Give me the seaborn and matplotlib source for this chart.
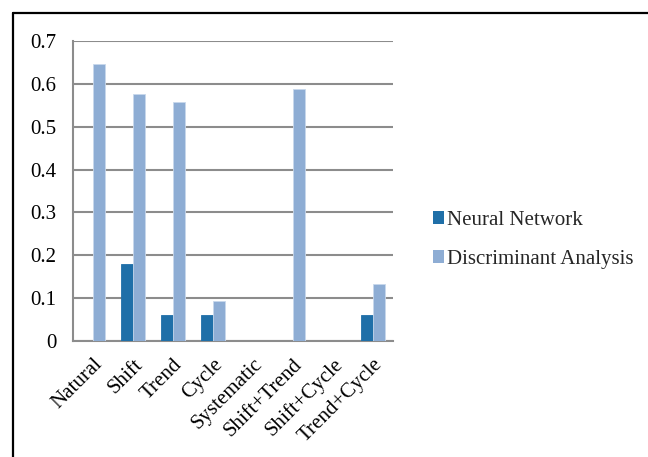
import matplotlib
matplotlib.use("Agg")
import matplotlib.pyplot as plt
import seaborn as sns
import pandas as pd
from matplotlib.lines import Line2D

categories = ["Natural", "Shift", "Trend", "Cycle", "Systematic",
              "Shift+Trend", "Shift+Cycle", "Trend+Cycle"]
neural_network = [0.0, 0.18, 0.06, 0.06, 0.0, 0.0, 0.0, 0.06]
discriminant_analysis = [0.646, 0.576, 0.558, 0.094, 0.0, 0.588, 0.0, 0.132]
series_names = ["Neural Network", "Discriminant Analysis"]
y_ticks = [0, 0.1, 0.2, 0.3, 0.4, 0.5, 0.6, 0.7]

df = pd.DataFrame({
    "category": categories * 2,
    "value": neural_network + discriminant_analysis,
    "series": [series_names[0]] * len(categories) + [series_names[1]] * len(categories),
})

sns.set_theme(style="white")
plt.rcParams["font.family"] = ["Liberation Serif", "DejaVu Serif"]

grid_gray = "#8c8c8c"
palette = {series_names[0]: "#1f6fa8", series_names[1]: "#8eadd4"}
fs = 15

fig = plt.figure(figsize=(6.48, 4.57), dpi=100)
ax = fig.add_axes([73 / 648, 1 - 341 / 457, 320 / 648, 300 / 457])

sns.barplot(data=df, x="category", y="value", hue="series", palette=palette,
            width=0.6, order=categories, hue_order=series_names,
            edgecolor="#c8d8ec", linewidth=0.6, saturation=1, ax=ax, zorder=3)
for patch in ax.patches:
    if patch.get_facecolor()[0] < 0.3:
        patch.set_edgecolor("#1f6fa8")

ax.set_ylim(0, 0.7)
ax.set_xlim(-0.5, len(categories) - 0.5)
ax.set_yticks(y_ticks)
ax.set_yticklabels([f"{t:g}" for t in y_ticks], fontsize=fs)
ax.set_xticks(range(len(categories)))
ax.set_xticklabels(categories, rotation=45, ha="right", rotation_mode="anchor", fontsize=fs)
ax.tick_params(axis="y", length=0, pad=12, colors="black")
ax.tick_params(axis="x", length=0, pad=10, colors="black")
ax.set_xlabel("")
ax.set_ylabel("")

ax.yaxis.grid(True, color=grid_gray, linewidth=1.5, zorder=0)
ax.set_axisbelow(True)
for side in ["top", "right"]:
    ax.spines[side].set_visible(False)
for side in ["left", "bottom"]:
    ax.spines[side].set_color(grid_gray)
    ax.spines[side].set_linewidth(1.5)

ax.legend_.remove()
handles = [plt.Rectangle((0, 0), 1, 1, facecolor=palette[s], edgecolor="none") for s in series_names]
fig.legend(handles, series_names, loc="center left", bbox_to_anchor=(414 / 648, 1 - 240 / 457),
           frameon=False, fontsize=fs, handlelength=0.55, handleheight=0.55,
           handletextpad=0.12, labelspacing=0.95)

# outer frame lines along the top and left edges
fig.add_artist(Line2D([13 / 648, 1.0], [1 - 12.5 / 457] * 2, color="black", linewidth=1.6,
                      transform=fig.transFigure))
fig.add_artist(Line2D([13 / 648] * 2, [0.0, 1 - 12.5 / 457], color="black", linewidth=1.6,
                      transform=fig.transFigure))

fig.savefig("out.png", dpi=100, facecolor="white")
